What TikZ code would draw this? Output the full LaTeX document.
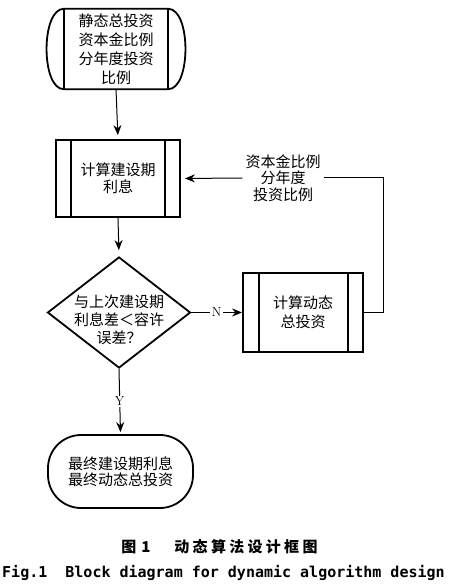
\documentclass[tikz,border=0pt]{standalone}
\usepackage{fontspec}
\usetikzlibrary{shapes.geometric,arrows.meta,calc}
\newfontfamily\cjk{Noto Sans CJK SC}
\newfontfamily\cjkb{Noto Sans CJK SC}
\newfontfamily\cjkcap{Noto Sans CJK SC}[LetterSpace=22]
\newfontfamily\capmono{DejaVu Sans Mono}
\begin{document}
\begin{tikzpicture}[x=1pt,y=-1pt,
  shp/.style={draw, line width=1.8pt},
  conn/.style={line width=1pt},
  arr/.style={conn,-{Stealth[length=10pt,width=8pt]}},
  txt/.style={align=center, inner sep=0pt},
  fs/.style={font=\cjk\fontsize{15}{#1}\selectfont},
  yn/.style={fill=white, inner sep=1.5pt, font=\fontsize{13}{13}\selectfont},
]
\useasboundingbox (0,0) rectangle (449,585);
\fill[white] (0,0) rectangle (449,585);

% start terminal
\node[txt, fs=19, minimum width=104pt, minimum height=80pt] (start) at (116,49)
  {静态总投资\\资本金比例\\分年度投资\\比例};
\draw[shp] (start.north west) -- (start.north east)
  .. controls +(23,0) and +(23,0) .. (start.south east) -- (start.south west)
  .. controls +(-23,0) and +(-23,0) .. (start.north west) -- cycle;
\draw[shp] (start.north west) -- (start.south west);
\draw[shp] (start.north east) -- (start.south east);

% compute interest
\node[shp, txt, fs=17, minimum width=124pt, minimum height=77pt] (calc) at (118,178.5)
  {计算建设期\\利息};
\draw[shp] ([xshift=16pt]calc.north west) -- ([xshift=16pt]calc.south west);
\draw[shp] ([xshift=-16pt]calc.north east) -- ([xshift=-16pt]calc.south east);

% decision
\node[shp, diamond, minimum width=143pt, minimum height=111pt, inner sep=0pt] (dia) at (119,312.5) {};
\node[txt, fs=18] (diatxt) at (119,320) {与上次建设期\\利息差＜容许\\误差？};

% dynamic investment
\node[shp, txt, fs=19, minimum width=120pt, minimum height=79pt] (dyn) at (303,312.5)
  {计算动态\\总投资};
\draw[shp] ([xshift=17pt]dyn.north west) -- ([xshift=17pt]dyn.south west);
\draw[shp] ([xshift=-16pt]dyn.north east) -- ([xshift=-16pt]dyn.south east);

% end terminal
\node[shp, txt, fs=16, rounded corners=33pt, minimum width=145pt, minimum height=73pt] (fin) at (120.5,471.5)
  {最终建设期利息\\最终动态总投资};

% loop label
\node[txt, fs=16.5, inner xsep=3pt] (lbl) at (283,178) {资本金比例\\分年度\\投资比例};

% connectors
\draw[arr, shorten >=4pt] (start.south) -- (calc.north);
\draw[arr, shorten >=6pt] (calc.south) -- (dia.north);
\draw[arr] (dia.east) -- node[yn]{N} (dyn.west);
\coordinate (loopc) at (383,312.5);
\draw[conn] (dyn.east) -- (loopc) |- (lbl.east);
\draw[arr, shorten >=4pt] (lbl.west) -- (calc.east);
\draw[arr, shorten >=2pt] (dia.south) -- node[yn]{Y} (fin.north);

% captions
\node[inner sep=0pt, font=\cjkb\bfseries\fontsize{15}{15}\selectfont] (capnum) at (136,547) {图\hspace{5pt}1};
\node[inner sep=0pt, font=\cjkcap\bfseries\fontsize{15}{15}\selectfont] (capzh) at (246,547) {动态算法设计框图};
\node[anchor=west, inner sep=0pt, font=\capmono\bfseries\fontsize{15}{15}\selectfont] (capen) at (2,573)
  {Fig.1\ \ Block diagram for dynamic algorithm design};
\end{tikzpicture}
\end{document}
